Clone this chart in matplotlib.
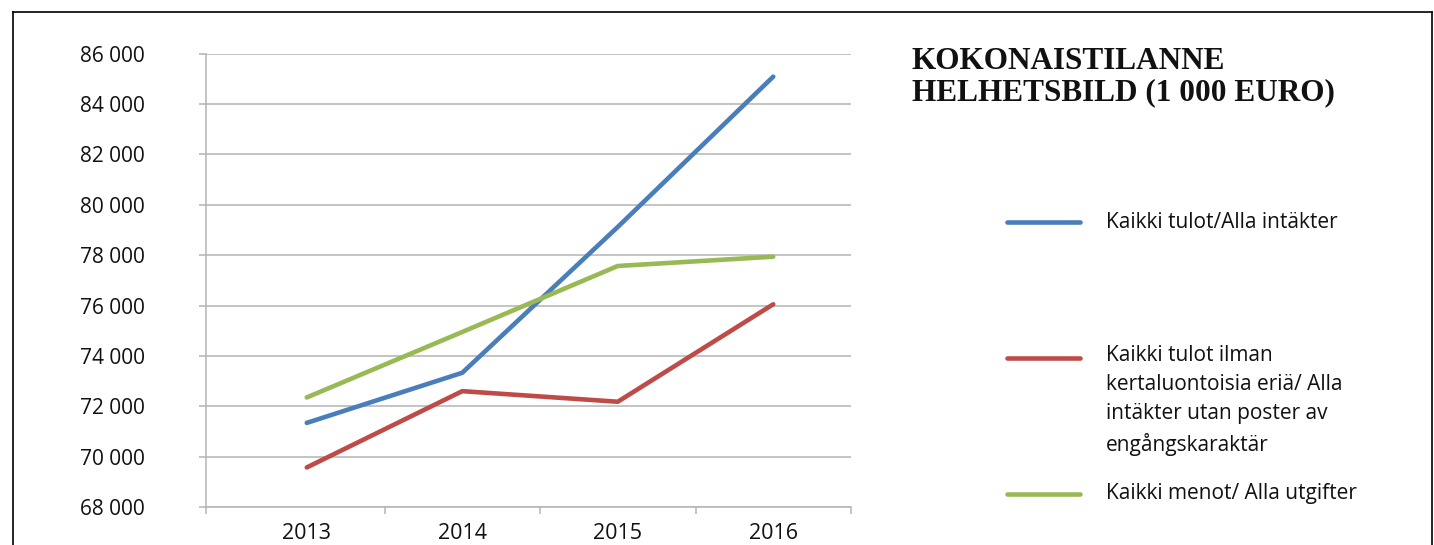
import matplotlib

matplotlib.use("Agg")
import matplotlib.pyplot as plt
from matplotlib.lines import Line2D

# data (1 000 euro)
years = ["2013", "2014", "2015", "2016"]
kaikki_tulot = [71340, 73330, 79120, 85090]
tulot_ilman_kerta = [69570, 72600, 72180, 76050]
kaikki_menot = [72350, 74950, 77570, 77940]

series_labels = [
    "Kaikki tulot/Alla intäkter",
    "Kaikki tulot ilman\nkertaluontoisia eriä/ Alla\nintäkter utan poster av\nengångskaraktär",
    "Kaikki menot/ Alla utgifter",
]
series_colors = ["#4A7EBB", "#BE4B48", "#98B954"]
yticks = list(range(68000, 86001, 2000))

title = "KOKONAISTILANNE\nHELHETSBILD (1 000 EURO)"

W, H = 1434, 545
plt.rcParams["font.family"] = ["Open Sans", "DejaVu Sans"]

fig = plt.figure(figsize=(W / 100, H / 100), dpi=100)
ax = fig.add_axes([205.7 / W, 1 - 507 / H, (851 - 205.7) / W, (507 - 53.7) / H])

x = list(range(len(years)))
for vals, color in zip([kaikki_tulot, tulot_ilman_kerta, kaikki_menot], series_colors):
    ax.plot(x, vals, color=color, lw=3.3, solid_capstyle="round", solid_joinstyle="round", zorder=3)

grid_c = "#b4b4b4"
ax.set_ylim(yticks[0], yticks[-1])
ax.set_yticks(yticks)
ax.set_yticklabels([f"{v:,}".replace(",", " ") for v in yticks])
ax.yaxis.grid(True, color=grid_c, lw=1.1)
ax.set_axisbelow(True)

ax.set_xlim(-0.65, len(years) - 0.5)
ax.set_xticks(x)
ax.set_xticklabels(years)
ax.set_xticks([-0.65] + [i + 0.5 for i in x], minor=True)
ax.tick_params(axis="x", which="major", length=0, pad=11.5, labelsize=15.5, labelcolor="#111111")
ax.tick_params(axis="x", which="minor", length=5, color=grid_c, width=1.1)
ax.tick_params(axis="y", length=5, color=grid_c, width=1.1, pad=39, labelsize=15, labelcolor="#111111")

for side in ["top", "right"]:
    ax.spines[side].set_visible(False)
for side in ["left", "bottom"]:
    ax.spines[side].set_color(grid_c)
    ax.spines[side].set_linewidth(1.1)

# title block
fig.text(912 / W, 1 - 47 / H, title, family="Liberation Serif", fontweight="bold",
         fontsize=22.5, va="top", ha="left", linespacing=1.12, color="#111111")

# legend, drawn by hand to match the spread-out layout
handle_y = [222, 358, 494]
for label, color, hy in zip(series_labels, series_colors, handle_y):
    yf = 1 - hy / H
    fig.add_artist(Line2D([1007 / W, 1080 / W], [yf, yf], color=color, lw=3.3,
                          solid_capstyle="round", transform=fig.transFigure))
    if "\n" in label:
        fig.text(1106 / W, 1 - (hy - 13) / H, label, fontsize=15, va="top", ha="left",
                 linespacing=1.5, color="#111111")
    else:
        fig.text(1106 / W, yf, label, fontsize=15, va="center", ha="left", color="#111111")

# frame around the picture (top, left, right)
for xs, ys in [([13, 1432], [12, 12]), ([13, 13], [12, H]), ([1432, 1432], [12, H])]:
    fig.add_artist(Line2D([v / W for v in xs], [1 - v / H for v in ys], color="black",
                          lw=1.2, transform=fig.transFigure))

fig.savefig("out.png", dpi=100)
